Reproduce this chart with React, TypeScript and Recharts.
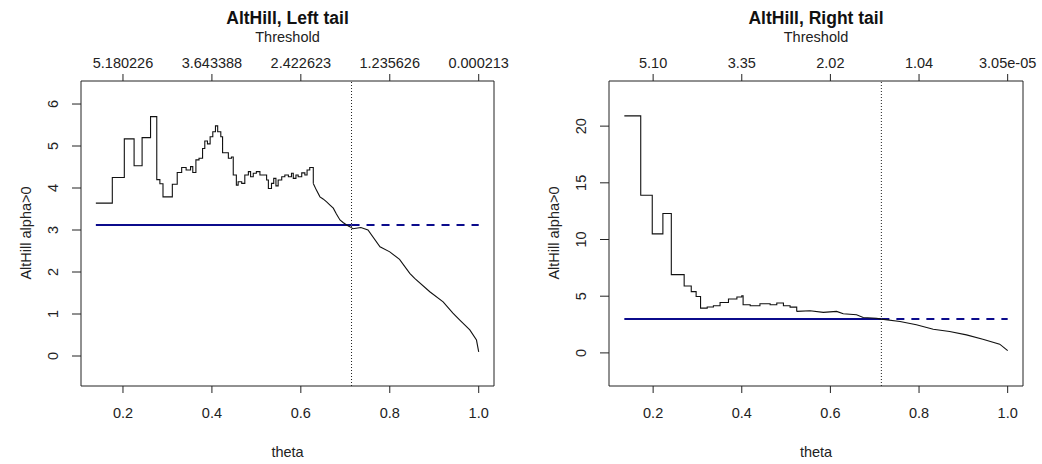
import React from 'react';
import { ComposedChart, Line, XAxis, YAxis, ReferenceLine, ReferenceArea } from 'recharts';

// theta ticks shared by both panels, with the threshold labels of the top axis
const thetaTicks = [0.2, 0.4, 0.6, 0.8, 1.0];
const leftThresholdLabels = ['5.180226', '3.643388', '2.422623', '1.235626', '0.000213'];
const rightThresholdLabels = ['5.10', '3.35', '2.02', '1.04', '3.05e-05'];

const leftAlphaTicks = [0, 1, 2, 3, 4, 5, 6];
const rightAlphaTicks = [0, 5, 10, 15, 20];

// left tail: step part, then the smooth descent
const leftStepTheta = [0.139, 0.176, 0.203, 0.225, 0.243, 0.262, 0.276, 0.283, 0.29, 0.311, 0.322, 0.332, 0.342, 0.352, 0.357, 0.364, 0.371, 0.379, 0.384, 0.39, 0.396, 0.402, 0.408, 0.413, 0.42, 0.424, 0.437, 0.444, 0.448,
  0.455, 0.459, 0.467, 0.474, 0.482, 0.487, 0.493, 0.5, 0.508, 0.517, 0.523, 0.527, 0.534, 0.539, 0.544, 0.549, 0.557, 0.564, 0.572, 0.579, 0.583, 0.589, 0.594, 0.602, 0.609, 0.614, 0.62, 0.628];
const leftStepAlpha = [3.64, 4.25, 5.17, 4.53, 5.2, 5.7, 4.2, 4.1, 3.79, 4.09, 4.37, 4.49, 4.43, 4.51, 4.37, 4.67, 4.71, 4.94, 5.12, 5.05, 5.22, 5.34, 5.48, 5.34, 5.22, 4.84, 4.71, 4.74, 4.31,
  4.07, 4.15, 4.11, 4.31, 4.39, 4.27, 4.35, 4.39, 4.31, 4.31, 4.19, 3.99, 4.11, 4.23, 4.05, 4.19, 4.27, 4.31, 4.27, 4.35, 4.23, 4.31, 4.27, 4.36, 4.31, 4.43, 4.49, 4.11];
const leftTailTheta = [0.628, 0.635, 0.643, 0.65, 0.658, 0.665, 0.673, 0.68, 0.688, 0.695, 0.703, 0.71, 0.717, 0.735, 0.751, 0.778, 0.8, 0.822, 0.845, 0.856, 0.89, 0.92, 0.942, 0.957, 0.98, 0.995, 1.0];
const leftTailAlpha = [4.11, 3.95, 3.79, 3.74, 3.67, 3.6, 3.52, 3.38, 3.24, 3.18, 3.12, 3.08, 3.03, 3.06, 3.0, 2.6, 2.48, 2.3, 1.97, 1.85, 1.53, 1.29, 1.02, 0.86, 0.62, 0.38, 0.1];

// right tail
const rightStepTheta = [0.135, 0.172, 0.198, 0.222, 0.241, 0.27, 0.286, 0.297, 0.307, 0.322, 0.336, 0.351, 0.37, 0.389, 0.4, 0.403, 0.419, 0.441, 0.464, 0.479, 0.494, 0.509, 0.524];
const rightStepAlpha = [20.9, 13.9, 10.5, 12.3, 6.9, 5.9, 5.4, 4.98, 3.95, 4.05, 4.16, 4.45, 4.75, 4.93, 5.04, 4.25, 4.16, 4.34, 4.25, 4.4, 4.16, 4.04, 3.66];
const rightTailTheta = [0.524, 0.554, 0.584, 0.614, 0.629, 0.659, 0.674, 0.704, 0.715, 0.757, 0.794, 0.832, 0.869, 0.907, 0.944, 0.982, 0.998, 1.0];
const rightTailAlpha = [3.66, 3.72, 3.57, 3.66, 3.45, 3.36, 3.12, 3.06, 2.98, 2.77, 2.48, 2.09, 1.88, 1.59, 1.21, 0.77, 0.27, 0.2];

const leftEstimate = 3.12;
const leftCut = 0.714;
const rightEstimate = 2.98;
const rightCut = 0.715;

const FONT = '"Liberation Sans", Arial, sans-serif';
const INK = '#222';
const BLUE = '#0b0b8c';

const toPoints = (ts: number[], as: number[]) => ts.map((t, i) => ({ t, a: as[i] }));

interface PanelProps {
  title: string;
  thresholds: string[];
  alphaTicks: number[];
  xDomain: [number, number];
  yDomain: [number, number];
  steps: { t: number; a: number }[];
  tail: { t: number; a: number }[];
  estimate: number;
  cut: number;
  left: number;
  right: number;
}

function Panel({ title, thresholds, alphaTicks, xDomain, yDomain, steps, tail, estimate, cut, left, right }: PanelProps) {
  const start = steps[0].t;
  const solid = [{ t: start, a: estimate }, { t: cut, a: estimate }];
  const dashed = [{ t: cut, a: estimate }, { t: 1.0, a: estimate }];
  const cx = (left + right) / 2;
  const txt = { position: 'absolute' as const, fontFamily: FONT, color: INK, whiteSpace: 'nowrap' as const };

  const BottomTick = (p: any) => (
    <text x={p.x} y={p.y + 20} textAnchor="middle" dominantBaseline="central" fontSize={14.5} fontFamily={FONT} fill={INK}>
      {p.payload.value.toFixed(1)}
    </text>
  );
  const TopTick = (p: any) => (
    <text x={p.x} y={p.y - 11} textAnchor="middle" dominantBaseline="central" fontSize={14.5} fontFamily={FONT} fill={INK}>
      {thresholds[thetaTicks.indexOf(p.payload.value)]}
    </text>
  );
  const LeftTick = (p: any) => (
    <text x={p.x - 19} y={p.y} textAnchor="middle" dominantBaseline="central" fontSize={14.5} fontFamily={FONT} fill={INK}
      transform={`rotate(-90 ${p.x - 19} ${p.y})`}>
      {p.payload.value}
    </text>
  );

  return (
    <div style={{ position: 'relative', width: 521, height: 464 }}>
      <ComposedChart width={521} height={464} margin={{ top: 51, right: 521 - right, bottom: 38, left: left - 40 }}>
        <XAxis dataKey="t" type="number" domain={xDomain} ticks={thetaTicks} allowDataOverflow
          height={40} axisLine={false} tickSize={7} tickMargin={0} tickLine={{ stroke: INK }} tick={BottomTick} />
        <XAxis xAxisId="top" dataKey="t" orientation="top" type="number" domain={xDomain} ticks={thetaTicks} allowDataOverflow
          height={30} axisLine={false} tickSize={7} tickMargin={0} tickLine={{ stroke: INK }} tick={TopTick} />
        <YAxis type="number" domain={yDomain} ticks={alphaTicks} allowDataOverflow width={40}
          axisLine={false} tickSize={9} tickMargin={0} tickLine={{ stroke: INK }} tick={LeftTick} />
        <ReferenceArea x1={xDomain[0]} x2={xDomain[1]} y1={yDomain[0]} y2={yDomain[1]} fill="none" fillOpacity={0}
          stroke={INK} strokeWidth={1} ifOverflow="visible" />
        <ReferenceLine x={cut} stroke={INK} strokeDasharray="1 2" strokeWidth={1} />
        <Line xAxisId="top" data={solid} dataKey="a" type="linear" stroke={BLUE} strokeWidth={2} dot={false} isAnimationActive={false} />
        <Line data={dashed} dataKey="a" type="linear" stroke={BLUE} strokeWidth={2} strokeDasharray="8 7" dot={false} isAnimationActive={false} />
        <Line data={steps} dataKey="a" type="stepAfter" stroke="#111" strokeWidth={1.1} dot={false} isAnimationActive={false} />
        <Line data={tail} dataKey="a" type="linear" stroke="#111" strokeWidth={1.1} dot={false} isAnimationActive={false} />
      </ComposedChart>
      <div style={{ ...txt, left: cx, top: 18, transform: 'translate(-50%,-50%)', fontSize: 17.5, fontWeight: 'bold', color: '#111' }}>{title}</div>
      <div style={{ ...txt, left: cx, top: 37, transform: 'translate(-50%,-50%)', fontSize: 14.5 }}>Threshold</div>
      <div style={{ ...txt, left: cx, top: 452, transform: 'translate(-50%,-50%)', fontSize: 14.5 }}>theta</div>
      <div style={{ ...txt, left: left - 55, top: 233, transform: 'translate(-50%,-50%) rotate(-90deg)', fontSize: 14.5 }}>AltHill alpha&gt;0</div>
    </div>
  );
}

export default function App() {
  return (
    <div style={{ position: 'absolute', left: 0, top: 0, width: 1042, height: 464, background: '#fff', display: 'flex' }}>
      <Panel title="AltHill, Left tail" thresholds={leftThresholdLabels} alphaTicks={leftAlphaTicks}
        xDomain={[0.1056, 1.0344]} yDomain={[-0.714, 6.548]}
        steps={toPoints(leftStepTheta, leftStepAlpha)} tail={toPoints(leftTailTheta, leftTailAlpha)}
        estimate={leftEstimate} cut={leftCut} left={81} right={494} />
      <Panel title="AltHill, Right tail" thresholds={rightThresholdLabels} alphaTicks={rightAlphaTicks}
        xDomain={[0.1004, 1.0346]} yDomain={[-2.92, 23.98]}
        steps={toPoints(rightStepTheta, rightStepAlpha)} tail={toPoints(rightTailTheta, rightTailAlpha)}
        estimate={rightEstimate} cut={rightCut} left={88} right={502} />
    </div>
  );
}
